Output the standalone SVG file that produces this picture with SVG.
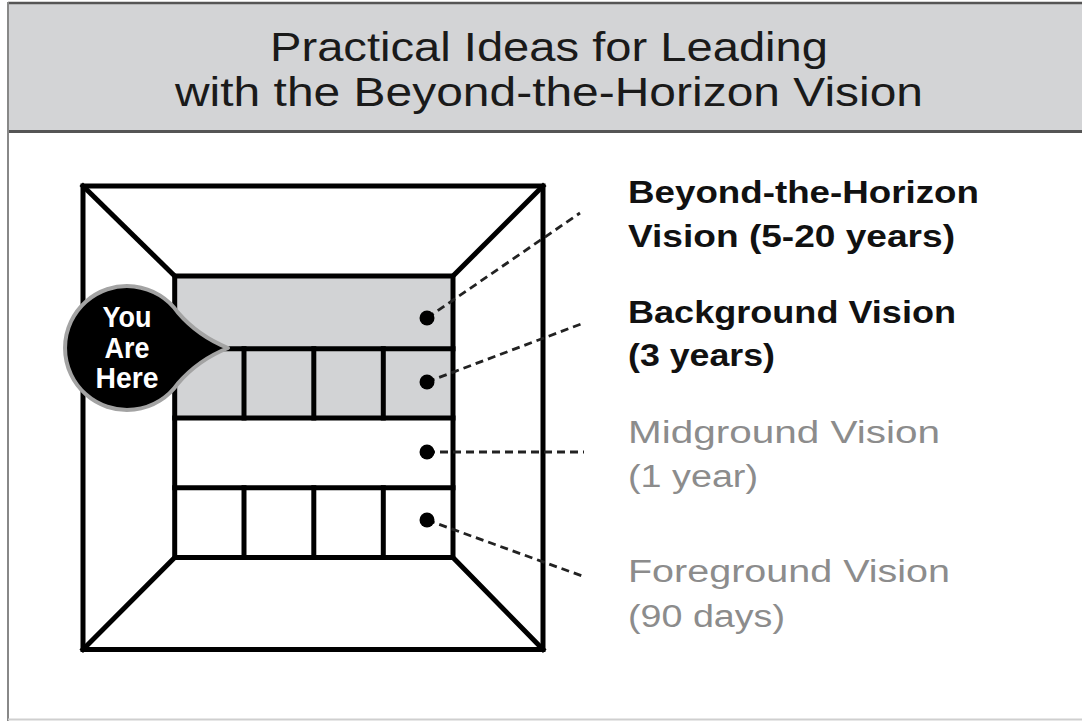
<svg xmlns="http://www.w3.org/2000/svg" width="1082" height="721" viewBox="0 0 1082 721">
  <style>
    .title { font-family: "Liberation Sans", Arial, sans-serif; font-size: 40px; fill: #1a1a1a; }
    .lbl-b { font-family: "Liberation Sans", Arial, sans-serif; font-size: 31px; font-weight: bold; fill: #111; }
    .lbl-g { font-family: "Liberation Sans", Arial, sans-serif; font-size: 31px; fill: #8c8c8c; }
    .here { font-family: "Liberation Sans", Arial, sans-serif; font-size: 30px; font-weight: bold; fill: #fff; text-anchor: middle; }
    .wall { fill: none; stroke: #000; stroke-width: 5; stroke-linejoin: miter; stroke-linecap: square; }
    .dash { fill: none; stroke: #222; stroke-width: 2.8; stroke-dasharray: 8 5; }
    .dot { fill: #000; }
  </style>

  <!-- page frame and header band -->
  <g id="frame">
    <rect x="0" y="0" width="1082" height="721" fill="#fff"/>
    <rect x="8" y="3" width="1080" height="128" fill="#d3d4d6"/>
    <line x1="8" y1="3" x2="1082" y2="3" stroke="#555" stroke-width="2.5"/>
    <line x1="8" y1="131.5" x2="1082" y2="131.5" stroke="#555" stroke-width="3"/>
    <line x1="8" y1="2" x2="8" y2="721" stroke="#888" stroke-width="2"/>
    <line x1="8" y1="719.5" x2="1082" y2="719.5" stroke="#cfcfcf" stroke-width="2"/>
  </g>

  <g id="title">
    <text class="title" x="270" y="61" textLength="558" lengthAdjust="spacingAndGlyphs">Practical Ideas for Leading</text>
    <text class="title" x="175" y="106" textLength="748" lengthAdjust="spacingAndGlyphs">with the Beyond-the-Horizon Vision</text>
  </g>

  <!-- room in perspective: floor, walls, ceiling and back wall -->
  <g id="room">
    <rect x="174.7" y="276" width="278.3" height="142" fill="#d2d3d5"/>
    <rect x="83" y="186" width="460" height="463.5" class="wall"/>
    <line x1="83" y1="186" x2="174.7" y2="276" class="wall"/>
    <line x1="543" y1="186" x2="453" y2="276" class="wall"/>
    <line x1="83" y1="649.5" x2="174.7" y2="557.5" class="wall"/>
    <line x1="543" y1="649.5" x2="453" y2="557.5" class="wall"/>
    <rect x="174.7" y="276" width="278.3" height="281.5" class="wall"/>
    <line x1="174.7" y1="348.7" x2="453" y2="348.7" class="wall"/>
    <line x1="174.7" y1="418" x2="453" y2="418" class="wall"/>
    <line x1="174.7" y1="487.7" x2="453" y2="487.7" class="wall"/>
    <line x1="244" y1="348.7" x2="244" y2="418" class="wall"/>
    <line x1="313.8" y1="348.7" x2="313.8" y2="418" class="wall"/>
    <line x1="383.3" y1="348.7" x2="383.3" y2="418" class="wall"/>
    <line x1="244" y1="487.7" x2="244" y2="557.5" class="wall"/>
    <line x1="313.8" y1="487.7" x2="313.8" y2="557.5" class="wall"/>
    <line x1="383.3" y1="487.7" x2="383.3" y2="557.5" class="wall"/>
  </g>

  <!-- leader lines from the markers to the labels -->
  <g id="connectors">
    <line x1="427" y1="318" x2="580" y2="213" class="dash"/>
    <line x1="427" y1="382" x2="585" y2="322.5" class="dash"/>
    <line x1="427" y1="452" x2="584" y2="452" class="dash"/>
    <line x1="427" y1="520" x2="585" y2="577" class="dash"/>
  </g>

  <g id="markers">
    <circle class="dot" cx="427" cy="318" r="7.5"/>
    <circle class="dot" cx="427" cy="382" r="7.5"/>
    <circle class="dot" cx="427" cy="452" r="7.5"/>
    <circle class="dot" cx="427" cy="520" r="7.5"/>
  </g>

  <g id="you-are-here">
    <path d="M177.8,312.4 A62,62 0 1 0 177.8,383.6 Q198,360 228,348 Q198,336 177.8,312.4 Z" fill="#000" stroke="#a3a3a3" stroke-width="4" stroke-linejoin="round"/>
    <text class="here" x="127" y="327" textLength="49" lengthAdjust="spacingAndGlyphs">You</text>
    <text class="here" x="127" y="358" textLength="45" lengthAdjust="spacingAndGlyphs">Are</text>
    <text class="here" x="127" y="388" textLength="63" lengthAdjust="spacingAndGlyphs">Here</text>
  </g>

  <g id="label-horizon">
    <text class="lbl-b" x="628" y="203" textLength="351" lengthAdjust="spacingAndGlyphs">Beyond-the-Horizon</text>
    <text class="lbl-b" x="628" y="247" textLength="327" lengthAdjust="spacingAndGlyphs">Vision (5-20 years)</text>
  </g>
  <g id="label-background">
    <text class="lbl-b" x="628" y="323" textLength="328" lengthAdjust="spacingAndGlyphs">Background Vision</text>
    <text class="lbl-b" x="628" y="366" textLength="147" lengthAdjust="spacingAndGlyphs">(3 years)</text>
  </g>
  <g id="label-midground">
    <text class="lbl-g" x="628" y="443" textLength="312" lengthAdjust="spacingAndGlyphs">Midground Vision</text>
    <text class="lbl-g" x="628" y="487" textLength="130" lengthAdjust="spacingAndGlyphs">(1 year)</text>
  </g>
  <g id="label-foreground">
    <text class="lbl-g" x="628" y="582" textLength="322" lengthAdjust="spacingAndGlyphs">Foreground Vision</text>
    <text class="lbl-g" x="628" y="627" textLength="157" lengthAdjust="spacingAndGlyphs">(90 days)</text>
  </g>
</svg>
